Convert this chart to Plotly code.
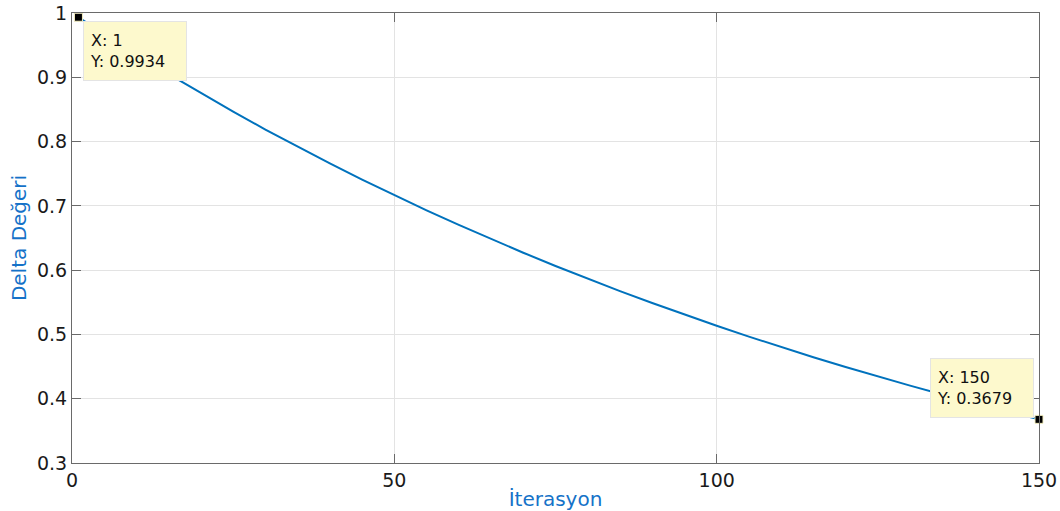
import plotly.graph_objects as go

# Delta value per iteration
iterations = [1, 5, 10, 15, 20, 25, 30, 35, 40, 45, 50, 55, 60, 65, 70, 75,
              80, 85, 90, 95, 100, 105, 110, 115, 120, 125, 130, 135, 140,
              145, 150]
delta = [0.9934, 0.9672, 0.9355, 0.9048, 0.8752, 0.8465, 0.8187, 0.7919,
         0.7659, 0.7408, 0.7165, 0.6930, 0.6703, 0.6483, 0.6271, 0.6065,
         0.5866, 0.5674, 0.5488, 0.5308, 0.5134, 0.4966, 0.4803, 0.4646,
         0.4493, 0.4346, 0.4204, 0.4066, 0.3932, 0.3803, 0.3679]

# Highlighted points (first and last iteration)
tip_x = [iterations[0], iterations[-1]]
tip_y = [delta[0], delta[-1]]

x_ticks = [0, 50, 100, 150]
y_ticks = [0.3, 0.4, 0.5, 0.6, 0.7, 0.8, 0.9, 1.0]
y_tick_text = ["0.3", "0.4", "0.5", "0.6", "0.7", "0.8", "0.9", "1"]

LINE_BLUE = "#0072BD"
TITLE_BLUE = "#1572C8"
AXIS_GREY = "#6a6a6a"
GRID_GREY = "#e3e3e3"
FONT = "DejaVu Sans"

fig = go.Figure()

fig.add_trace(go.Scatter(
    x=iterations, y=delta, mode="lines",
    line=dict(color=LINE_BLUE, width=2),
    hoverinfo="skip", showlegend=False,
))

fig.add_trace(go.Scatter(
    x=tip_x, y=tip_y, mode="markers",
    marker=dict(symbol="square", size=8, color="black",
                line=dict(color="#f4efc0", width=1)),
    hoverinfo="skip", showlegend=False, cliponaxis=False,
))

# Data tip boxes
tip_style = dict(
    showarrow=False, align="left", bgcolor="#fdf9cd",
    bordercolor="#e4e4e4", borderwidth=1, borderpad=6,
    width=90, height=46, valign="middle",
    font=dict(family=FONT, size=16, color="#111111"),
)
fig.add_annotation(
    x=tip_x[0], y=tip_y[0], xref="x", yref="y",
    text=f"X: {tip_x[0]}<br>Y: {tip_y[0]:.4f}",
    xanchor="left", yanchor="top", xshift=5, yshift=-4, **tip_style,
)
fig.add_annotation(
    x=tip_x[1], y=tip_y[1], xref="x", yref="y",
    text=f"X: {tip_x[1]}<br>Y: {tip_y[1]:.4f}",
    xanchor="right", yanchor="bottom", xshift=-5, yshift=1, **tip_style,
)

axis_common = dict(
    showline=True, linecolor=AXIS_GREY, linewidth=1, mirror="ticks",
    ticks="inside", ticklen=9, tickcolor=AXIS_GREY, tickwidth=1,
    showgrid=True, gridcolor=GRID_GREY, gridwidth=1, zeroline=False,
    automargin=False,
    tickfont=dict(family=FONT, size=19, color="#1a1a1a"),
)

fig.update_xaxes(
    range=[0, 150], tickvals=x_ticks,
    title=dict(text="İterasyon", standoff=4,
               font=dict(family=FONT, size=20, color=TITLE_BLUE)),
    **axis_common,
)
fig.update_yaxes(
    range=[0.3, 1.0], tickvals=y_ticks, ticktext=y_tick_text,
    title=dict(text="Delta Değeri", standoff=4,
               font=dict(family=FONT, size=20, color=TITLE_BLUE)),
    **axis_common,
)

fig.update_layout(
    width=1060, height=511,
    margin=dict(l=72, r=21, t=13, b=48),
    paper_bgcolor="white", plot_bgcolor="white",
)

fig.write_html("out.html")
